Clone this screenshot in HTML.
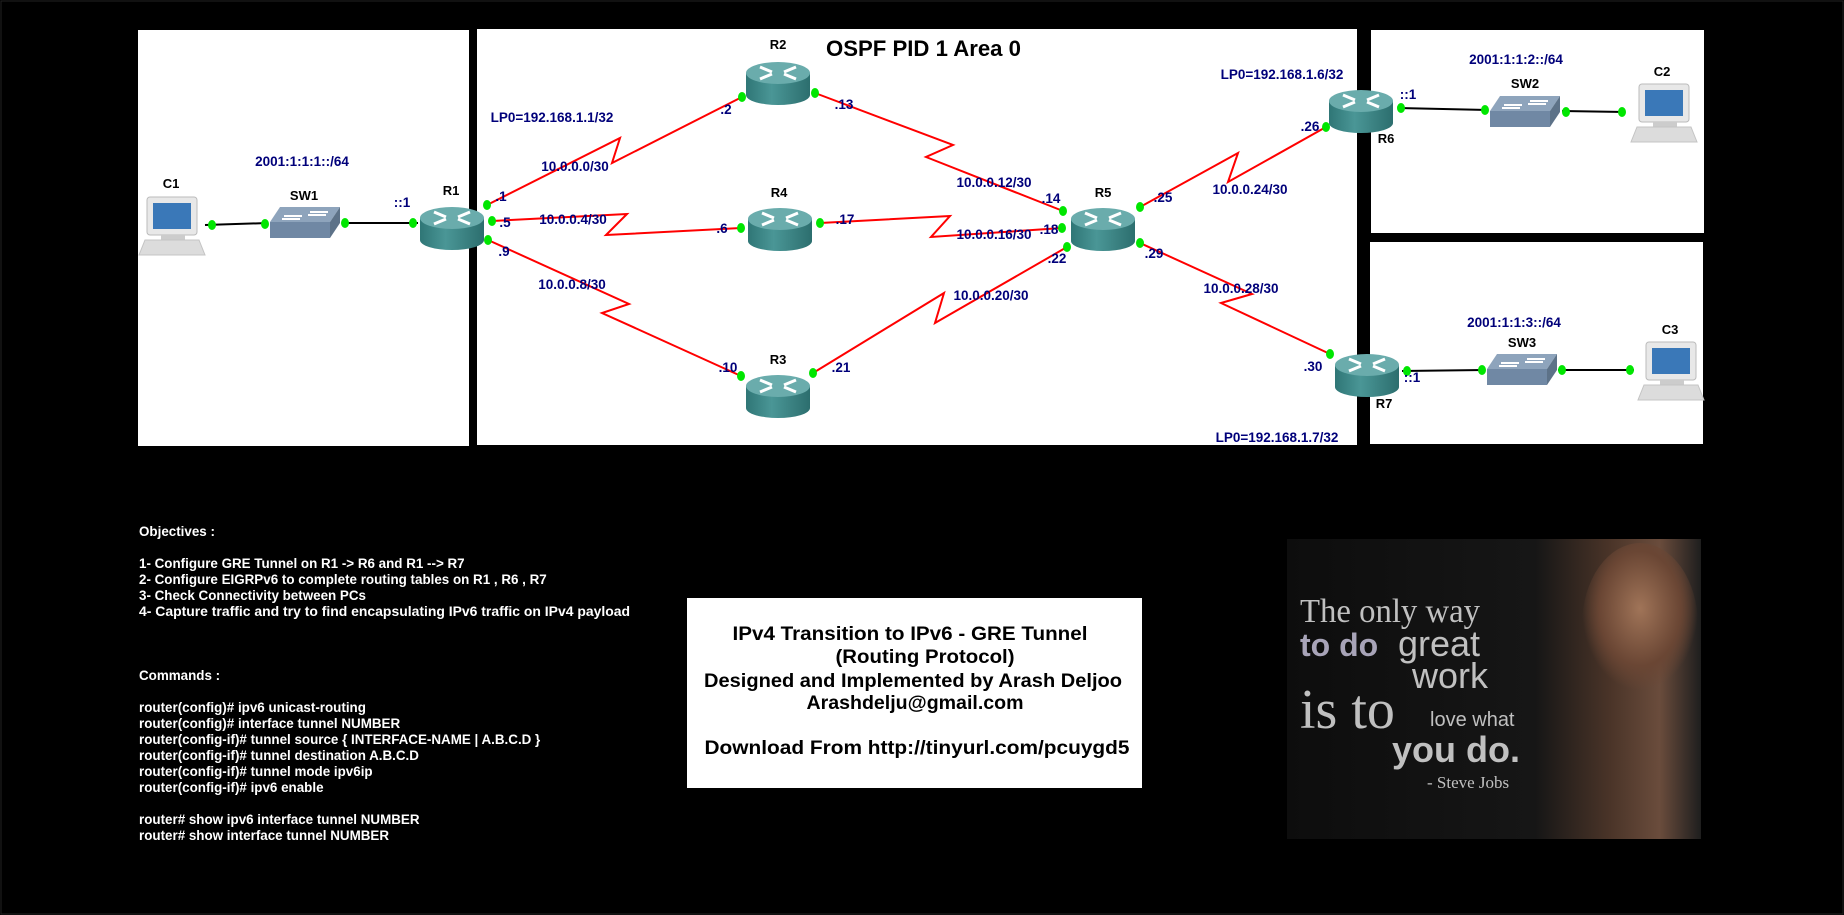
<!DOCTYPE html>
<html><head><meta charset="utf-8"><style>
html,body{margin:0;padding:0;background:#000;width:1844px;height:915px;overflow:hidden}
svg{display:block}
.nl{font-family:"Liberation Sans Narrow","Liberation Sans",sans-serif;font-weight:bold;font-size:13px;fill:#000}
.bl{font-family:"Liberation Sans Narrow","Liberation Sans",sans-serif;font-weight:bold;font-size:13.5px;fill:#00007a}
.tx{font-family:"Liberation Sans",sans-serif;font-weight:bold;font-size:13.4px;fill:#fff}
.bx{font-family:"Liberation Sans Narrow","Liberation Sans",sans-serif;font-weight:bold;font-size:19px;fill:#000}
</style></head><body>
<svg width="1844" height="915" viewBox="0 0 1844 915" xmlns="http://www.w3.org/2000/svg">
<defs>
<linearGradient id="rb" x1="0" x2="1" y1="0" y2="0"><stop offset="0" stop-color="#2f7676"/><stop offset="0.4" stop-color="#4a9696"/><stop offset="1" stop-color="#2c6e6e"/></linearGradient>
<linearGradient id="ph" x1="0" x2="1" y1="0" y2="0"><stop offset="0" stop-color="#0d0d0d"/><stop offset="0.6" stop-color="#161616"/><stop offset="0.78" stop-color="#4a3428"/><stop offset="0.9" stop-color="#6a4c3c"/><stop offset="1" stop-color="#1e1e1e"/></linearGradient>
<radialGradient id="face" cx="0.5" cy="0.4" r="0.5"><stop offset="0" stop-color="#a07458"/><stop offset="0.7" stop-color="#6a4634"/><stop offset="1" stop-color="#6a4634" stop-opacity="0"/></radialGradient>
<clipPath id="pc1"><rect x="1287" y="539" width="414" height="300"/></clipPath>
<g id="router">
<path d="M-32,-11 L-32,11 A32,10 0 0 0 32,11 L32,-11 Z" fill="url(#rb)"/>
<ellipse cx="0" cy="-11" rx="32" ry="11" fill="#6aacac"/>
<path d="M-18,-17 L-6,-12 M18,-5 L6,-10 M-18,-5 L-6,-10 M18,-17 L6,-12" stroke="#fff" stroke-width="3"/>
</g>
<g id="switch">
<path d="M0,15 L10,0 L70,0 L60,15 Z" fill="#8ea4bc"/>
<path d="M60,15 L70,0 L70,16 L60,31 Z" fill="#5d7288"/>
<rect x="0" y="15" width="60" height="16" fill="#7088a4"/>
<path d="M14,9 L32,9 M40,5 L58,5 M12,12 L30,12 M38,8 L56,8" stroke="#fff" stroke-width="2"/>
</g>
<g id="pc">
<rect x="6" y="0" width="50" height="38" rx="3" fill="#e8e8e8" stroke="#bbb"/>
<rect x="12" y="6" width="38" height="26" fill="#3a78b8"/>
<rect x="20" y="38" width="24" height="5" fill="#ccc"/>
<path d="M4,43 L58,43 L64,58 L-2,58 Z" fill="#dcdcdc" stroke="#c4c4c4"/>
</g>
</defs>
<rect x="0" y="0" width="1844" height="915" fill="#000"/>
<rect x="1" y="1" width="1842" height="913" fill="none" stroke="#222" stroke-width="1"/>
<rect x="138" y="30" width="331" height="416" fill="#fff"/>
<rect x="477" y="29" width="880" height="416" fill="#fff"/>
<rect x="1371" y="30" width="333" height="203" fill="#fff"/>
<rect x="1370" y="242" width="333" height="202" fill="#fff"/>
<text x="826" y="56" font-family="Liberation Sans Narrow,Liberation Sans,sans-serif" font-weight="bold" font-size="22" fill="#000" textLength="195" lengthAdjust="spacingAndGlyphs">OSPF PID 1 Area 0</text>
<g stroke="#000" stroke-width="2">
<line x1="205" y1="225" x2="268" y2="223"/><line x1="342" y1="223" x2="418" y2="223"/>
<line x1="1398" y1="108" x2="1488" y2="110"/><line x1="1562" y1="111" x2="1625" y2="112"/>
<line x1="1402" y1="371" x2="1484" y2="370"/><line x1="1558" y1="370" x2="1634" y2="370"/>
</g>
<g stroke="#f00" stroke-width="2" fill="none">
<polyline points="487,205 620,138 612,163 742,97"/>
<polyline points="492,221 627,214 606,235 741,228"/>
<polyline points="488,240 629,304 602,313 741,376"/>
<polyline points="815,93 953,145 926,157 1063,211"/>
<polyline points="820,223 950,216 931,237 1062,228"/>
<polyline points="813,373 944,293 935,323 1067,247"/>
<polyline points="1140,207 1238,153 1228,182 1326,127"/>
<polyline points="1140,243 1252,294 1221,303 1330,354"/>
</g>
<use href="#pc" x="141" y="197"/>
<use href="#switch" x="270" y="207"/>
<use href="#router" x="452" y="229"/>
<use href="#router" x="778" y="84"/>
<use href="#router" x="780" y="230"/>
<use href="#router" x="778" y="397"/>
<use href="#router" x="1103" y="230"/>
<use href="#router" x="1361" y="112"/>
<use href="#router" x="1367" y="376"/>
<use href="#switch" x="1490" y="96"/>
<use href="#switch" x="1487" y="354"/>
<use href="#pc" x="1633" y="84"/>
<use href="#pc" x="1640" y="342"/>
<g fill="#00e600">
<ellipse cx="212" cy="225" rx="4" ry="5"/><ellipse cx="265" cy="224" rx="4" ry="5"/>
<ellipse cx="345" cy="223" rx="4" ry="5"/><ellipse cx="413" cy="223" rx="4" ry="5"/>
<ellipse cx="487" cy="205" rx="4" ry="5"/><ellipse cx="492" cy="221" rx="4" ry="5"/><ellipse cx="488" cy="240" rx="4" ry="5"/>
<ellipse cx="742" cy="97" rx="4" ry="5"/><ellipse cx="815" cy="93" rx="4" ry="5"/>
<ellipse cx="741" cy="228" rx="4" ry="5"/><ellipse cx="820" cy="223" rx="4" ry="5"/>
<ellipse cx="741" cy="376" rx="4" ry="5"/><ellipse cx="813" cy="373" rx="4" ry="5"/>
<ellipse cx="1063" cy="211" rx="4" ry="5"/><ellipse cx="1062" cy="228" rx="4" ry="5"/><ellipse cx="1067" cy="247" rx="4" ry="5"/>
<ellipse cx="1140" cy="207" rx="4" ry="5"/><ellipse cx="1140" cy="243" rx="4" ry="5"/>
<ellipse cx="1326" cy="127" rx="4" ry="5"/><ellipse cx="1401" cy="108" rx="4" ry="5"/>
<ellipse cx="1485" cy="110" rx="4" ry="5"/><ellipse cx="1566" cy="112" rx="4" ry="5"/><ellipse cx="1622" cy="112" rx="4" ry="5"/>
<ellipse cx="1330" cy="354" rx="4" ry="5"/><ellipse cx="1407" cy="371" rx="4" ry="5"/>
<ellipse cx="1482" cy="370" rx="4" ry="5"/><ellipse cx="1562" cy="370" rx="4" ry="5"/><ellipse cx="1630" cy="370" rx="4" ry="5"/>
</g>
<g class="nl" text-anchor="middle">
<text x="171" y="188">C1</text><text x="304" y="200">SW1</text><text x="451" y="195">R1</text>
<text x="778" y="49">R2</text><text x="779" y="197">R4</text><text x="778" y="364">R3</text>
<text x="1103" y="197">R5</text><text x="1386" y="143">R6</text><text x="1384" y="408">R7</text>
<text x="1525" y="88">SW2</text><text x="1662" y="76">C2</text>
<text x="1522" y="347">SW3</text><text x="1670" y="334">C3</text>
</g>
<g class="bl" text-anchor="middle">
<text x="552" y="122">LP0=192.168.1.1/32</text>
<text x="302" y="166">2001:1:1:1::/64</text>
<text x="402" y="207">::1</text>
<text x="501" y="201">.1</text><text x="505" y="227">.5</text><text x="504" y="256">.9</text>
<text x="726" y="114">.2</text><text x="844" y="109">.13</text>
<text x="722" y="233">.6</text><text x="845" y="224">.17</text>
<text x="728" y="372">.10</text><text x="841" y="372">.21</text>
<text x="1051" y="203">.14</text><text x="1049" y="234">.18</text><text x="1057" y="263">.22</text>
<text x="1163" y="202">.25</text><text x="1154" y="258">.29</text>
<text x="1310" y="131">.26</text><text x="1313" y="371">.30</text>
<text x="1408" y="99">::1</text><text x="1412" y="382">::1</text>
<text x="575" y="171">10.0.0.0/30</text><text x="573" y="224">10.0.0.4/30</text><text x="572" y="289">10.0.0.8/30</text>
<text x="994" y="187">10.0.0.12/30</text><text x="994" y="239">10.0.0.16/30</text><text x="991" y="300">10.0.0.20/30</text>
<text x="1250" y="194">10.0.0.24/30</text><text x="1241" y="293">10.0.0.28/30</text>
<text x="1282" y="79">LP0=192.168.1.6/32</text><text x="1277" y="442">LP0=192.168.1.7/32</text>
<text x="1516" y="64">2001:1:1:2::/64</text><text x="1514" y="327">2001:1:1:3::/64</text>
</g>
<g class="tx">
<text x="139" y="536">Objectives :</text>
<text x="139" y="568">1- Configure GRE Tunnel on  R1 -&gt; R6 and  R1 --&gt; R7</text>
<text x="139" y="584">2- Configure EIGRPv6 to complete routing tables on R1 , R6 , R7</text>
<text x="139" y="600">3- Check Connectivity between PCs</text>
<text x="139" y="616" textLength="491" lengthAdjust="spacingAndGlyphs">4- Capture traffic and try to find encapsulating IPv6 traffic on IPv4 payload</text>
<text x="139" y="680">Commands :</text>
<text x="139" y="712">router(config)# ipv6 unicast-routing</text>
<text x="139" y="728">router(config)# interface tunnel NUMBER</text>
<text x="139" y="744">router(config-if)# tunnel source { INTERFACE-NAME | A.B.C.D }</text>
<text x="139" y="760">router(config-if)# tunnel destination A.B.C.D</text>
<text x="139" y="776">router(config-if)# tunnel mode ipv6ip</text>
<text x="139" y="792">router(config-if)# ipv6 enable</text>
<text x="139" y="824">router# show ipv6 interface tunnel NUMBER</text>
<text x="139" y="840">router# show interface tunnel NUMBER</text>
</g>
<rect x="687" y="598" width="455" height="190" fill="#fff"/>
<g class="bx" text-anchor="middle">
<text x="910" y="640" textLength="355" lengthAdjust="spacingAndGlyphs">IPv4 Transition to IPv6 - GRE Tunnel</text>
<text x="925" y="663" textLength="179" lengthAdjust="spacingAndGlyphs">(Routing Protocol)</text>
<text x="913" y="687" textLength="418" lengthAdjust="spacingAndGlyphs">Designed and Implemented by Arash Deljoo</text>
<text x="915" y="709" textLength="217" lengthAdjust="spacingAndGlyphs">Arashdelju@gmail.com</text>
<text x="917" y="754" textLength="425" lengthAdjust="spacingAndGlyphs">Download From http://tinyurl.com/pcuygd5</text>
</g>
<rect x="1287" y="539" width="414" height="300" fill="url(#ph)"/>
<ellipse cx="1640" cy="625" rx="58" ry="82" fill="url(#face)" clip-path="url(#pc1)"/>
<g font-family="Liberation Serif,serif" fill="#c0c0c0">
<text x="1300" y="622" font-size="34" textLength="180" lengthAdjust="spacingAndGlyphs">The only way</text>
<text x="1300" y="656" font-size="32" font-family="Liberation Sans,sans-serif" font-weight="bold" fill="#a8a4b8">to do</text>
<text x="1398" y="656" font-size="36" font-family="Liberation Sans,sans-serif">great</text>
<text x="1412" y="688" font-size="36" font-family="Liberation Sans,sans-serif">work</text>
<text x="1300" y="728" font-size="56">is to</text>
<text x="1430" y="726" font-size="20" font-family="Liberation Sans,sans-serif">love what</text>
<text x="1392" y="762" font-size="36" font-family="Liberation Sans,sans-serif" font-weight="bold">you do.</text>
<text x="1427" y="788" font-size="17">- Steve Jobs</text>
</g>
</svg>
</body></html>
